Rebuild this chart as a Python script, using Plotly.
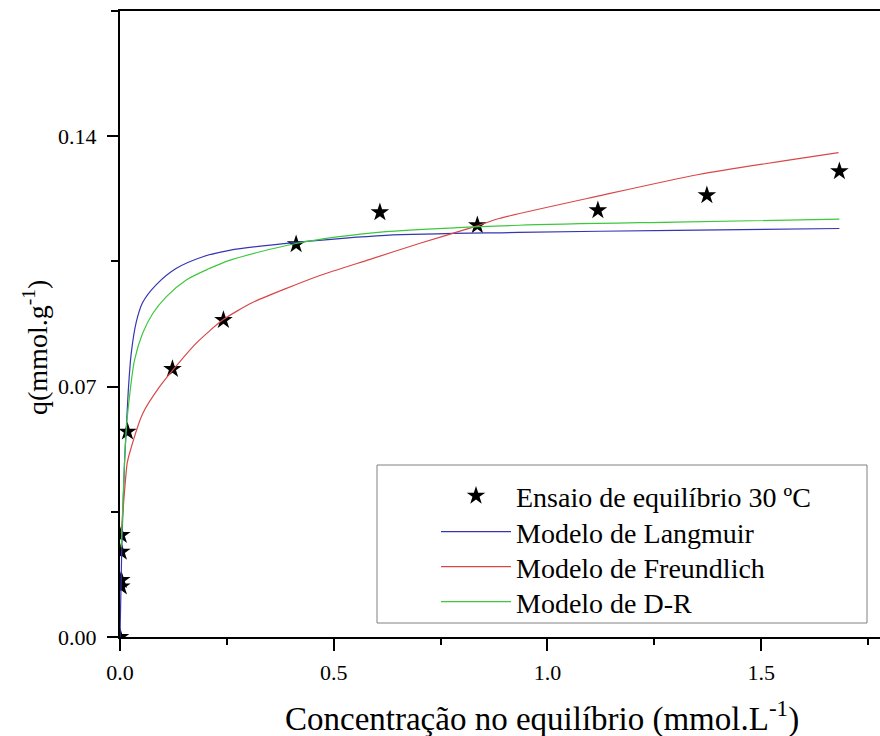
import plotly.graph_objects as go

# Equilibrium isotherm at 30 ºC: experimental points
conc_exp = [0.0, 0.003, 0.003, 0.003, 0.003, 0.0175, 0.1227, 0.242, 0.412, 0.608, 0.836, 1.118, 1.373, 1.683]
q_exp = [0.0, 0.0285, 0.0238, 0.0159, 0.0141, 0.0574, 0.0749, 0.0886, 0.1098, 0.1187, 0.1151, 0.1193, 0.1235, 0.1302]

# Langmuir model curve
conc_lang = [0.0, 0.004, 0.0105, 0.0145, 0.020, 0.026, 0.038, 0.053, 0.085, 0.131, 0.194, 0.256, 0.412, 0.622, 0.933, 1.300, 1.683]
q_lang = [0.0, 0.024, 0.0486, 0.0578, 0.070, 0.079, 0.088, 0.0935, 0.0985, 0.1030, 0.1063, 0.1081, 0.1103, 0.1123, 0.1131, 0.1137, 0.1142]

# Freundlich model curve
conc_freu = [0.003, 0.0168, 0.0222, 0.0533, 0.0923, 0.1234, 0.178, 0.240, 0.310, 0.466, 0.583, 0.700, 0.824, 0.887, 1.120, 1.354, 1.681]
q_freu = [0.029, 0.0486, 0.0513, 0.0625, 0.0699, 0.0746, 0.0821, 0.0886, 0.0935, 0.1010, 0.1055, 0.1100, 0.1145, 0.1170, 0.1233, 0.1293, 0.1354]

# Dubinin-Radushkevich model curve
conc_dr = [0.003, 0.0145, 0.022, 0.034, 0.053, 0.077, 0.108, 0.155, 0.209, 0.256, 0.412, 0.622, 0.933, 1.300, 1.683]
q_dr = [0.025, 0.0578, 0.067, 0.0774, 0.0849, 0.0905, 0.0951, 0.0998, 0.1030, 0.1053, 0.1100, 0.1133, 0.1151, 0.1160, 0.1168]

series_names = ["Ensaio de equilíbrio 30 ºC", "Modelo de Langmuir", "Modelo de Freundlich", "Modelo de D-R"]

FONT = "Liberation Serif"

L, R, T, B = 120, 0, 11, 99
W, H = 880, 736
pw, ph = W - L - R, H - T - B


def px_x(px):
    return (px - L) / pw


def px_y(py):
    return (H - B - py) / ph


fig = go.Figure()
fig.add_trace(go.Scatter(
    x=conc_exp, y=q_exp, mode="markers", name=series_names[0], legend="legend",
    marker=dict(symbol="star", size=14, color="black", line=dict(width=0)),
))
fig.add_trace(go.Scatter(
    x=conc_lang, y=q_lang, mode="lines", name=series_names[1], legend="legend2",
    line=dict(color="#3535b5", width=1.2, shape="spline", smoothing=0.8),
))
fig.add_trace(go.Scatter(
    x=conc_freu, y=q_freu, mode="lines", name=series_names[2], legend="legend3",
    line=dict(color="#d84848", width=1.2, shape="spline", smoothing=0.6),
))
fig.add_trace(go.Scatter(
    x=conc_dr, y=q_dr, mode="lines", name=series_names[3], legend="legend4",
    line=dict(color="#3cc83c", width=1.2, shape="spline", smoothing=0.8),
))

axis_common = dict(
    showline=True, linewidth=2, linecolor="black",
    ticks="outside", tickwidth=2, tickcolor="black",
    showgrid=False, zeroline=False,
    tickfont=dict(family=FONT, size=22, color="black"),
)

fig.update_xaxes(
    range=[0, 1.778], dtick=0.5, tick0=0, tickformat=".1f", ticklen=12, mirror=True,
    ticklabelstandoff=3,
    minor=dict(ticks="outside", ticklen=6, tickwidth=2, tickcolor="black", dtick=0.25),
    **axis_common,
)
fig.update_yaxes(
    range=[0, 0.175], dtick=0.07, tick0=0, tickformat=".2f", ticklen=11,
    ticklabelstandoff=6,
    minor=dict(ticks="outside", ticklen=7, tickwidth=2, tickcolor="black", dtick=0.035),
    **axis_common,
)

# one legend per entry so the row spacing can follow the boxed key
row_centres = [496, 532, 567, 602]
legend_style = dict(
    x=px_x(436), xanchor="left", yanchor="middle",
    bgcolor="rgba(0,0,0,0)", borderwidth=0,
    font=dict(family=FONT, size=28, color="black"),
    itemwidth=70, visible=True,
)
legends = {}
for i, key in enumerate(["legend", "legend2", "legend3", "legend4"]):
    legends[key] = dict(y=px_y(row_centres[i]), **legend_style)

fig.update_layout(
    width=W, height=H,
    margin=dict(l=L, r=R, t=T, b=B),
    showlegend=True,
    plot_bgcolor="white", paper_bgcolor="white",
    font=dict(family=FONT, color="black"),
    shapes=[
        dict(type="rect", xref="paper", yref="paper",
             x0=px_x(377), x1=px_x(867), y0=px_y(623), y1=px_y(465),
             line=dict(color="#808080", width=1), fillcolor="white", layer="above"),
    ],
    annotations=[
        dict(text="Concentração no equilíbrio (mmol.L<sup>-1</sup>)", xref="paper", yref="paper",
             x=px_x(542), y=px_y(717), xanchor="center", yanchor="middle", showarrow=False,
             font=dict(family=FONT, size=33, color="black")),
        dict(text="q(mmol.g<sup>-1</sup>)", xref="paper", yref="paper",
             x=px_x(35), y=px_y(348), xanchor="center", yanchor="middle", showarrow=False,
             textangle=-90, font=dict(family=FONT, size=28, color="black")),
    ],
    **legends,
)

fig.write_html("out.html")
